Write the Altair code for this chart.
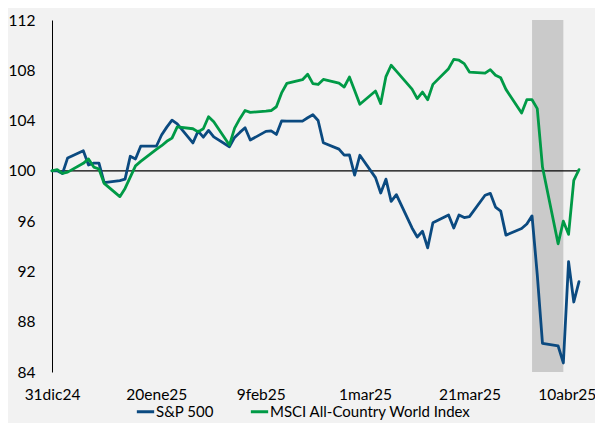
import altair as alt
import pandas as pd

# ---- data ----
start_date = "2024-12-31"
end_date = "2025-04-11"
dates = pd.bdate_range(start_date, end_date)  # weekdays shown on the date axis

sp500 = [
    100.00, 100.00, 99.78, 101.03,
    101.60, 100.47, 100.62, 100.62, 99.07,
    99.23, 99.34, 101.16, 100.95, 101.96,
    101.96, 102.85, 103.48, 104.03, 103.73,
    102.22, 103.16, 102.68, 103.22, 102.70,
    101.92, 102.66, 103.06, 103.43, 102.45,
    103.14, 103.18, 102.90, 103.97, 103.96,
    103.96, 104.22, 104.46, 104.01, 102.24,
    101.73, 101.25, 101.27, 99.66, 101.24,
    99.46, 98.24, 99.34, 97.57, 98.11,
    95.46, 94.74, 95.20, 93.88, 95.87,
    96.49, 95.46, 96.49, 96.28, 96.36,
    98.06, 98.21, 97.12, 96.80, 94.89,
    95.41, 95.77, 96.42, 91.75, 86.27,
    86.07, 84.72, 92.78, 89.57, 91.19,
]

msci = [
    100.00, 100.10, 99.80, 99.90,
    100.60, 100.95, 100.30, 100.15, 99.00,
    97.95, 98.60, 99.50, 100.40, 100.75,
    101.70, 102.00, 102.35, 102.60, 103.50,
    103.35, 103.10, 103.35, 104.30, 103.90,
    102.05, 103.40, 104.15, 104.80, 104.65,
    104.75, 104.80, 105.10, 106.20, 106.95,
    107.25, 107.68, 106.94, 106.87, 107.27,
    106.98, 106.67, 107.46, 106.40, 105.30,
    106.35, 105.35, 107.50, 108.40, 107.93,
    106.50, 105.75, 106.27, 105.66, 106.88,
    108.13, 108.87, 108.80, 108.53, 107.86,
    107.78, 108.05, 107.60, 107.40, 106.48,
    104.60, 105.66, 105.66, 104.95, 100.30,
    94.20, 96.00, 94.95, 99.24, 100.10,
]

series_names = ["S&P 500", "MSCI All-Country World Index"]
series_colors = ["#0b4a80", "#009a46"]

tick_days = [0, 20, 40, 60, 80, 100]
tick_labels = ["31dic24", "20ene25", "9feb25", "1mar25", "21mar25", "10abr25"]
y_ticks = [84, 88, 92, 96, 100, 104, 108, 112]

band_start = "2025-04-02"
band_end = "2025-04-08"

assert len(sp500) == len(dates) == len(msci)

# ---- tables ----
t0 = pd.Timestamp(start_date)
days = [(d - t0).days for d in dates]
df = pd.DataFrame({
    "day": days * 2,
    "value": sp500 + msci,
    "series": [series_names[0]] * len(days) + [series_names[1]] * len(days),
})
band = pd.DataFrame({
    "x1": [(pd.Timestamp(band_start) - t0).days],
    "x2": [(pd.Timestamp(band_end) - t0).days],
})
base_line = pd.DataFrame({"y": [100]})

FONT = "Lato"
x_max = days[-1]
xscale = alt.Scale(domain=[0, x_max], nice=False, zero=False)
yscale = alt.Scale(domain=[84, 112], nice=False, zero=False)

label_js = "[" + ",".join(f"'{t}'" for t in tick_labels) + "]"

x_axis = alt.Axis(
    values=tick_days, labelExpr=f"{label_js}[round(datum.value/20)]",
    title=None, domain=False, ticks=False, grid=False, labelFlush=False,
    labelFont=FONT, labelFontSize=15.5, labelColor="#000000", labelPadding=15,
    labelOffset={"condition": {"test": f"datum.value === {tick_days[-1]}", "value": -7}, "value": 0},
)
y_axis = alt.Axis(
    values=y_ticks, title=None, domain=True, domainColor="#000000", domainWidth=1,
    ticks=False, grid=False, labelFont=FONT, labelFontSize=15.5,
    labelColor="#000000", labelPadding=17,
)

rect = alt.Chart(band).mark_rect(color="#cacaca").encode(
    x=alt.X("x1:Q", scale=xscale, axis=x_axis),
    x2="x2:Q",
)

rule = alt.Chart(base_line).mark_rule(color="#000000", strokeWidth=1.3).encode(
    y=alt.Y("y:Q", scale=yscale, axis=y_axis),
)

lines = alt.Chart(df).mark_line(strokeWidth=2.8, strokeJoin="round", strokeCap="round").encode(
    x=alt.X("day:Q", scale=xscale, axis=x_axis),
    y=alt.Y("value:Q", scale=yscale, axis=y_axis),
    color=alt.Color(
        "series:N",
        scale=alt.Scale(domain=series_names, range=series_colors),
        sort=series_names,
        legend=alt.Legend(
            orient="none", legendX=83, legendY=381, direction="horizontal",
            title=None, symbolType="stroke", symbolStrokeWidth=3, symbolSize=300,
            labelFont=FONT, labelFontSize=15, labelColor="#000000", labelLimit=400,
            columnPadding=30, labelOffset=0, padding=0,
        ),
    ),
)

chart = alt.layer(rect, rule, lines).properties(
    width=527, height=352,
    padding={"left": 44, "top": 12, "right": 16, "bottom": 51},
    autosize=alt.AutoSizeParams(type="none"),
    background="#f2f2f2",
).configure_view(stroke=None)

chart.save("out.html", embed_options={"renderer": "svg", "actions": False})
